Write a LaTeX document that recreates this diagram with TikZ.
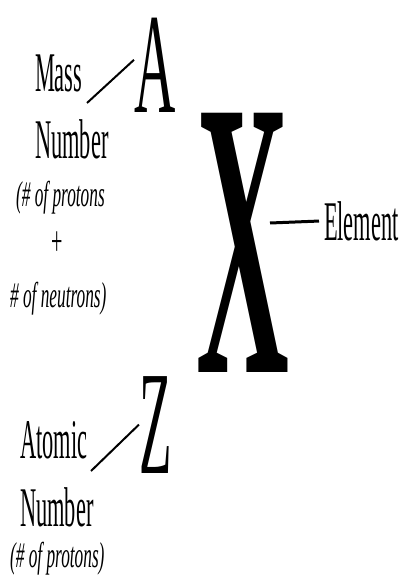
\documentclass[tikz,border=0pt]{standalone}
\usepackage{fontspec}
\setmainfont{Liberation Serif}
\usepackage{tikz}
\usetikzlibrary{positioning}

\begin{document}
\begin{tikzpicture}[x=1pt, y=-1pt,
			lbl/.style={font=\fontsize{56}{60}\selectfont, xscale=0.40, inner sep=0pt, anchor=base west},
			note/.style={font=\itshape\fontsize{36}{40}\selectfont, xscale=0.48, inner sep=0pt, anchor=base west},
			bigsym/.style={inner sep=0pt, anchor=base west},
			leader/.style={line width=2pt}]
			%Bildbereich
			\useasboundingbox (0,0) rectangle (402,577);
			% Symbole
			\node[bigsym, font=\fontsize{143}{143}\selectfont, xscale=0.40] (A) at (134,113) {A};
			\node[bigsym, font=\bfseries\fontsize{396}{396}\selectfont, xscale=0.325] (X) at (196,372) {X};
			\node[bigsym, font=\fontsize{148}{148}\selectfont, xscale=0.36] (Z) at (139,473) {Z};
			% Massenzahl
			\node[lbl] (mass) at (35,92) {Mass};
			\node[lbl] (massnum) at (35,159) {Number};
			\node[note] (protA) at (16,207) {(\# of protons};
			\node[note, anchor=base, font=\fontsize{42}{42}\selectfont] (plus) at (57,255) {+};
			\node[note] (neutr) at (10,307) {\# of neutrons)};
			% Element
			\node[lbl] (elem) at (324,240) {Element};
			% Ordnungszahl
			\node[lbl] (atomic) at (20,458) {Atomic};
			\node[lbl] (atomnum) at (20,526) {Number};
			\node[note] (protZ) at (10,567) {(\# of protons)};
			%Verbindungslinien
			\coordinate (massln) at (87,103);
			\coordinate (elln) at (270,223);
			\coordinate (atomln) at (91,471);
			\draw[leader] (massln) -- ([yshift=6pt]A.west);
			\draw[line width=3pt, shorten >=5pt] (elln) -- (elem.west);
			\draw[leader] (atomln) -- (Z.west);
		\end{tikzpicture}
\end{document}
